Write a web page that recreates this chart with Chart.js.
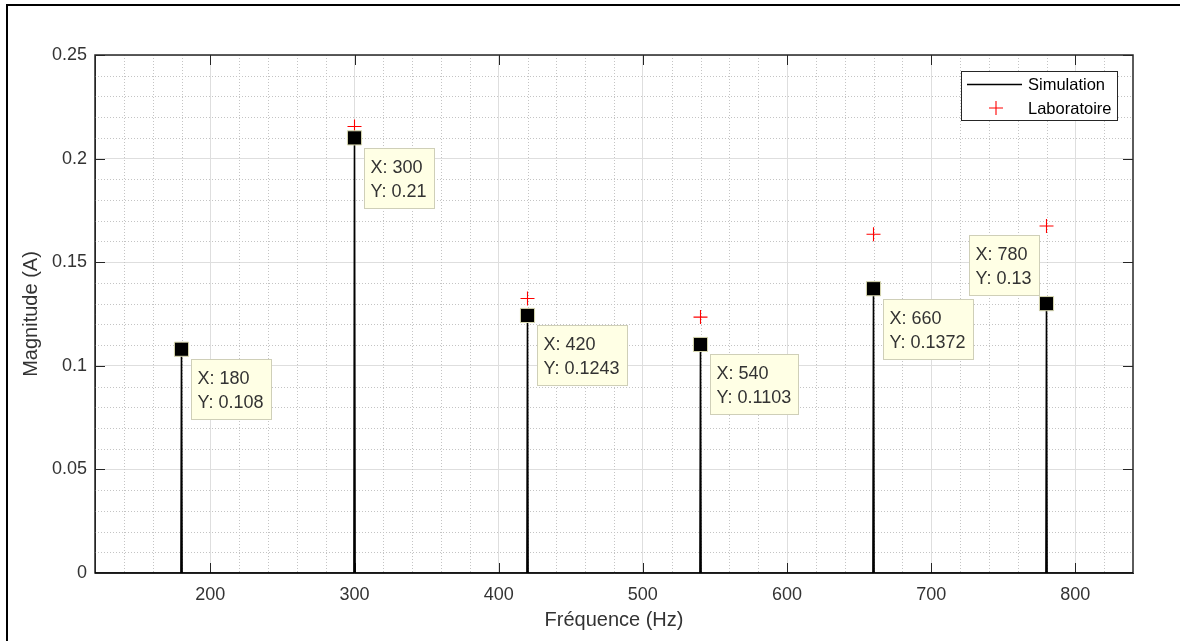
<!DOCTYPE html>
<html>
<head>
<meta charset="utf-8">
<script src="https://cdn.jsdelivr.net/npm/chart.js@4.4.1/dist/chart.umd.min.js"></script>
<style>
html, body { margin: 0; padding: 0; background: #fff; overflow: hidden; }
canvas { display: block; }
</style>
</head>
<body>
<canvas id="myChart" width="1180" height="641"></canvas>
<script>
// ------------------------------- donnees -------------------------------
var freqs  = [180, 300, 420, 540, 660, 780];
var simMag = [0.108, 0.21, 0.1243, 0.1103, 0.1372, 0.13];
var labMag = [0.108, 0.2155, 0.1325, 0.1235, 0.1635, 0.1675];
var xTicks = [200, 300, 400, 500, 600, 700, 800];
var yTicks = [0, 0.05, 0.1, 0.15, 0.2, 0.25];
var xRange = [120, 840];
var yRange = [0, 0.25];

// where each datatip box sits relative to its point
var tipSide = ['br', 'br', 'br', 'br', 'br', 'tl'];

var FONT = "'Liberation Sans', Arial, Helvetica, sans-serif";
var TXT = '#333333';
var AX = '#262626';

// spectrum: flat floor at 0 with a narrow spike at each harmonic
var simData = [{ x: xRange[0], y: 0 }];
freqs.forEach(function (f, i) {
    simData.push({ x: f - 0.4, y: 0 });
    simData.push({ x: f, y: simMag[i] });
    simData.push({ x: f + 0.4, y: 0 });
});
simData.push({ x: xRange[1], y: 0 });

var labData = freqs.map(function (f, i) { return { x: f, y: labMag[i] }; });
var tipData = freqs.map(function (f, i) { return { x: f, y: simMag[i] }; });

// white page + outer frame
var frame = {
    id: 'frame',
    beforeDraw: function (chart) {
        var c = chart.ctx;
        c.save();
        c.fillStyle = '#fff';
        c.fillRect(0, 0, chart.width, chart.height);
        c.strokeStyle = '#000';
        c.lineWidth = 2;
        c.beginPath();
        c.moveTo(7, chart.height);
        c.lineTo(7, 5);
        c.lineTo(chart.width, 5);
        c.stroke();
        c.restore();
    }
};

// dotted minor grid, box and inward tick marks
var axesBox = {
    id: 'axesBox',
    beforeDatasetsDraw: function (chart) {
        var a = chart.chartArea, sx = chart.scales.x, sy = chart.scales.y, c = chart.ctx;
        c.save();
        c.strokeStyle = '#c4c4c4';
        c.lineWidth = 1;
        c.setLineDash([1, 2]);
        var v, p;
        for (v = xRange[0] + 20; v < xRange[1]; v += 20) {
            if (v % 100 === 0) continue;
            p = Math.round(sx.getPixelForValue(v)) + 0.5;
            c.beginPath(); c.moveTo(p, a.top); c.lineTo(p, a.bottom); c.stroke();
        }
        for (var k = 1; k < 25; k++) {
            if (k % 5 === 0) continue;
            p = Math.round(sy.getPixelForValue(k * 0.01)) + 0.5;
            c.beginPath(); c.moveTo(a.left, p); c.lineTo(a.right, p); c.stroke();
        }
        c.setLineDash([]);
        c.strokeStyle = AX;
        c.lineWidth = 1;
        xTicks.forEach(function (t) {
            var px = Math.round(sx.getPixelForValue(t)) + 0.5;
            c.beginPath();
            c.moveTo(px, a.bottom); c.lineTo(px, a.bottom - 10);
            c.moveTo(px, a.top); c.lineTo(px, a.top + 10);
            c.stroke();
        });
        yTicks.forEach(function (t) {
            var py = Math.round(sy.getPixelForValue(t)) + 0.5;
            c.beginPath();
            c.moveTo(a.left, py); c.lineTo(a.left + 10, py);
            c.moveTo(a.right, py); c.lineTo(a.right - 10, py);
            c.stroke();
        });
        c.lineWidth = 1.5;
        c.strokeRect(a.left, a.top, a.right - a.left, a.bottom - a.top);
        c.restore();
    }
};

// datatips (MATLAB style)
var dataTips = {
    id: 'dataTips',
    afterDatasetsDraw: function (chart) {
        var c = chart.ctx;
        var meta = chart.getDatasetMeta(2);
        c.save();
        c.font = '18px ' + FONT;
        c.textBaseline = 'middle';
        meta.data.forEach(function (pt, i) {
            var l1 = 'X: ' + freqs[i], l2 = 'Y: ' + simMag[i];
            var w = Math.ceil(Math.max(c.measureText(l1).width, c.measureText(l2).width)) + 13;
            var h = 60;
            var bx, by;
            if (tipSide[i] === 'br') { bx = pt.x + 9; by = pt.y + 10; }
            else { bx = pt.x - 8 - w; by = pt.y - 9 - h; }
            bx = Math.round(bx) + 0.5; by = Math.round(by) + 0.5;
            c.fillStyle = '#ffffe5';
            c.fillRect(bx, by, w, h);
            c.strokeStyle = '#cfcfb8';
            c.lineWidth = 1;
            c.strokeRect(bx, by, w, h);
            c.fillStyle = TXT;
            c.fillText(l1, bx + 6, by + 20);
            c.fillText(l2, bx + 6, by + 44);
        });
        c.restore();
    }
};

// legend box in the upper right corner
var legendBox = {
    id: 'legendBox',
    afterDraw: function (chart) {
        var a = chart.chartArea, c = chart.ctx;
        var ds = chart.data.datasets;
        c.save();
        c.font = '16.5px ' + FONT;
        var tw = Math.max(c.measureText(ds[0].label).width, c.measureText(ds[1].label).width);
        var w = Math.ceil(tw) + 72, h = 49;
        var right = a.right - 16, top = a.top + 16;
        var left = right - w;
        c.fillStyle = '#fff';
        c.fillRect(left + 0.5, top + 0.5, w, h);
        c.strokeStyle = AX;
        c.lineWidth = 1;
        c.strokeRect(left + 0.5, top + 0.5, w, h);
        // simulation sample
        c.strokeStyle = ds[0].borderColor;
        c.lineWidth = 1.3;
        c.beginPath(); c.moveTo(left + 6, top + 13.5); c.lineTo(left + 61, top + 13.5); c.stroke();
        // labo sample
        c.strokeStyle = ds[1].borderColor;
        c.lineWidth = 1.1;
        var cx = left + 35, cy = top + 37;
        c.beginPath();
        c.moveTo(cx - 7, cy); c.lineTo(cx + 7, cy);
        c.moveTo(cx, cy - 7); c.lineTo(cx, cy + 7);
        c.stroke();
        c.fillStyle = '#000';
        c.textBaseline = 'middle';
        c.fillText(ds[0].label, left + 67, top + 14);
        c.fillText(ds[1].label, left + 67, top + 38);
        c.restore();
    }
};

Chart.defaults.font.family = FONT;

var myChart = new Chart(document.getElementById('myChart'), {
    type: 'line',
    data: {
        datasets: [{
            label: 'Simulation',
            data: simData,
            borderColor: '#000000',
            borderWidth: 1.6,
            pointRadius: 0,
            tension: 0,
            fill: false,
            order: 2
        }, {
            label: 'Laboratoire',
            data: labData,
            showLine: false,
            pointStyle: 'cross',
            pointRadius: 7,
            pointBorderColor: '#ff0000',
            borderColor: '#ff0000',
            pointBorderWidth: 1.1,
            order: 1
        }, {
            label: 'tips',
            data: tipData,
            showLine: false,
            pointStyle: 'rect',
            pointRadius: 10,
            pointBackgroundColor: '#000000',
            pointBorderColor: '#d9d9b0',
            pointBorderWidth: 1,
            order: 0
        }]
    },
    options: {
        responsive: false,
        animation: false,
        layout: { padding: { top: 55, right: 47, left: 0, bottom: 0 } },
        plugins: {
            legend: { display: false },
            tooltip: { enabled: false }
        },
        scales: {
            x: {
                type: 'linear',
                min: xRange[0],
                max: xRange[1],
                afterBuildTicks: function (s) { s.ticks = xTicks.map(function (v) { return { value: v }; }); },
                afterFit: function (s) { s.height = 68; },
                ticks: {
                    autoSkip: false, maxRotation: 0, padding: 11,
                    color: TXT, font: { size: 18 },
                    callback: function (v) { return String(v); }
                },
                grid: { color: '#dedede', drawTicks: false },
                border: { color: AX },
                title: {
                    display: true, text: 'Fréquence (Hz)', color: TXT,
                    font: { size: 20 }, padding: { top: 0, bottom: 9 }
                }
            },
            y: {
                type: 'linear',
                min: yRange[0],
                max: yRange[1],
                afterBuildTicks: function (s) { s.ticks = yTicks.map(function (v) { return { value: v }; }); },
                afterFit: function (s) { s.width = 95; },
                ticks: {
                    padding: 8, color: TXT, font: { size: 18 },
                    callback: function (v) { return String(v); }
                },
                grid: { color: '#dedede', drawTicks: false },
                border: { color: AX },
                title: {
                    display: true, text: 'Magnitude (A)', color: TXT,
                    font: { size: 20 }, padding: { top: 19, bottom: 0 }
                }
            }
        }
    },
    plugins: [frame, axesBox, dataTips, legendBox]
});
</script>
</body>
</html>
